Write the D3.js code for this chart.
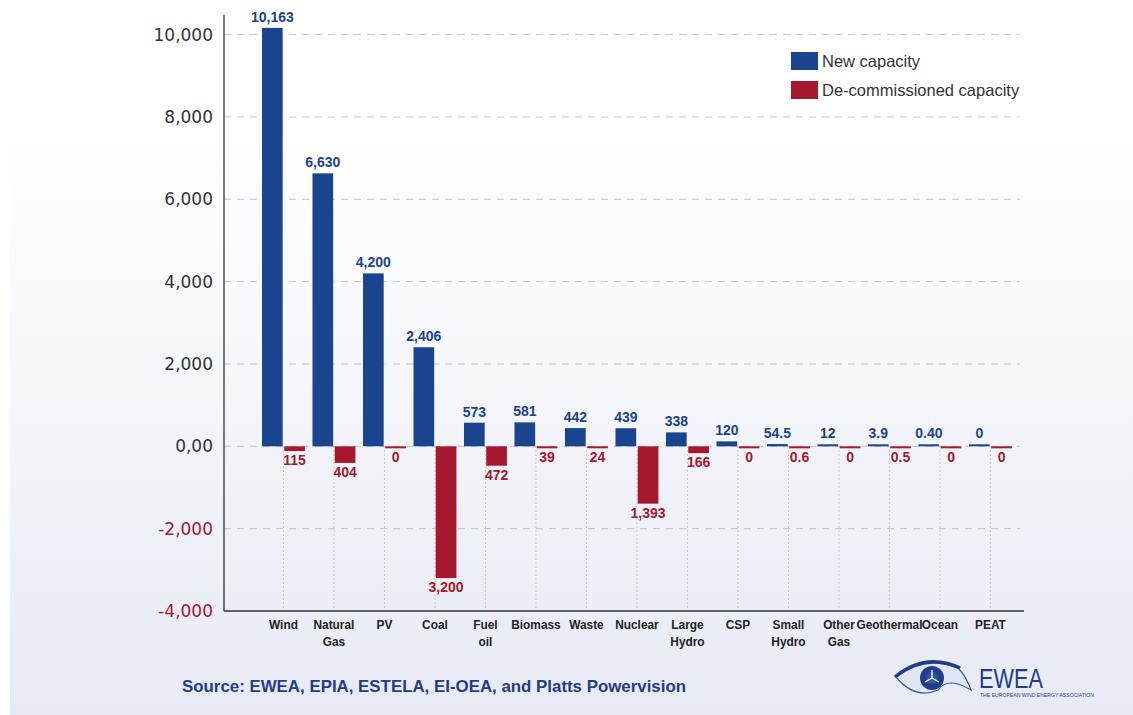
<!DOCTYPE html>
<html>
<head>
<meta charset="utf-8">
<script src="https://cdn.jsdelivr.net/npm/d3@7"></script>
<style>
  body { margin: 0; background: #fff; }
  svg { display: block; }
</style>
</head>
<body>
<svg width="1133" height="715"></svg>
<script>
// categories and values
var categories = ["Wind", "Natural Gas", "PV", "Coal", "Fuel oil", "Biomass", "Waste", "Nuclear",
  "Large Hydro", "CSP", "Small Hydro", "Other Gas", "Geothermal", "Ocean", "PEAT"];
var catLines = [["Wind"], ["Natural", "Gas"], ["PV"], ["Coal"], ["Fuel", "oil"], ["Biomass"], ["Waste"], ["Nuclear"],
  ["Large", "Hydro"], ["CSP"], ["Small", "Hydro"], ["Other", "Gas"], ["Geothermal"], ["Ocean"], ["PEAT"]];
var newCapacity = [10163, 6630, 4200, 2406, 573, 581, 442, 439, 338, 120, 54.5, 12, 3.9, 0.40, 0];
var newLabels = ["10,163", "6,630", "4,200", "2,406", "573", "581", "442", "439", "338", "120", "54.5", "12", "3.9", "0.40", "0"];
var decommissioned = [115, 404, 0, 3200, 472, 39, 24, 1393, 166, 0, 0.6, 0, 0.5, 0, 0];
var decomLabels = ["115", "404", "0", "3,200", "472", "39", "24", "1,393", "166", "0", "0.6", "0", "0.5", "0", "0"];
var yTicks = [10000, 8000, 6000, 4000, 2000, 0, -2000, -4000];
var yTickLabels = ["10,000", "8,000", "6,000", "4,000", "2,000", "0,00", "-2,000", "-4,000"];
var seriesNames = ["New capacity", "De-commissioned capacity"];

var blue = "#1a448d", red = "#a5182e";
var width = 1133, height = 715;
var margin = ({top: 14, right: 113, bottom: 104, left: 224});

var svg = d3.select("svg");

// background gradient
var defs = svg.append("defs");
var grad = defs.append("linearGradient").attr("id", "bg").attr("x1", 0).attr("y1", 0).attr("x2", 0).attr("y2", 1);
grad.append("stop").attr("offset", "0.18").attr("stop-color", "#ffffff");
grad.append("stop").attr("offset", "1").attr("stop-color", "#e7eaf4");
svg.append("rect").attr("x", 10).attr("y", 0).attr("width", width - 10).attr("height", height).attr("fill", "url(#bg)");

var x0 = d3.scaleBand()
    .domain(categories)
    .range([258.2, 1015.7])
    .paddingInner(0.15)
    .paddingOuter(0.075);
var x1 = d3.scaleBand()
    .domain(["new", "decom"])
    .range([0, x0.bandwidth()])
    .paddingInner(0.07);
var y = d3.scaleLinear()
    .domain([-4000, 10500])
    .range([height - margin.bottom, margin.top]);

// gridlines
svg.append("g")
  .selectAll("line")
  .data(yTicks.filter(d => d > -4000))
  .join("line")
    .attr("x1", margin.left).attr("x2", 1020)
    .attr("y1", d => y(d)).attr("y2", d => y(d))
    .attr("stroke", "#c4c4c4")
    .attr("stroke-width", 1)
    .attr("stroke-dasharray", "7,6");

// dotted verticals under the zero line
svg.append("g")
  .selectAll("line")
  .data(categories)
  .join("line")
    .attr("x1", d => x0(d) + x0.bandwidth() / 2).attr("x2", d => x0(d) + x0.bandwidth() / 2)
    .attr("y1", y(0)).attr("y2", y(-4000))
    .attr("stroke", "#bdbdbd")
    .attr("stroke-width", 1)
    .attr("stroke-dasharray", "1.5,2.5");

// y axis
var yAxis = g => g
    .attr("transform", `translate(${margin.left},0)`)
    .call(d3.axisLeft(y).tickValues(yTicks).tickSize(0).tickPadding(11)
      .tickFormat((d, i) => yTickLabels[i]))
    .call(g => g.select(".domain").remove())
    .call(g => g.selectAll(".tick text")
        .attr("font-family", "DejaVu Sans, sans-serif")
        .attr("font-size", 17)
        .attr("fill", d => d < 0 ? red : "#333"));
svg.append("g").call(yAxis);

svg.append("line")
    .attr("x1", margin.left).attr("x2", margin.left)
    .attr("y1", 15).attr("y2", y(-4000))
    .attr("stroke", "#333").attr("stroke-width", 1.3);
svg.append("line")
    .attr("x1", margin.left).attr("x2", 1024)
    .attr("y1", y(-4000)).attr("y2", y(-4000))
    .attr("stroke", "#333").attr("stroke-width", 1.3);

// bars
var rows = categories.map((c, i) => ({cat: c, lines: catLines[i], nv: newCapacity[i], nl: newLabels[i], dv: decommissioned[i], dl: decomLabels[i]}));
var minH = 2;

var groups = svg.append("g")
  .selectAll("g")
  .data(rows)
  .join("g")
    .attr("transform", d => `translate(${x0(d.cat)},0)`);

groups.append("rect")
    .attr("x", x1("new"))
    .attr("width", x1.bandwidth())
    .attr("y", d => Math.min(y(d.nv), y(0) - minH))
    .attr("height", d => Math.max(y(0) - y(d.nv), minH))
    .attr("fill", blue);

groups.append("rect")
    .attr("x", x1("decom"))
    .attr("width", x1.bandwidth())
    .attr("y", y(0))
    .attr("height", d => Math.max(y(0) - y(d.dv), minH))
    .attr("fill", red);

groups.append("text")
    .attr("x", x1("new") + x1.bandwidth() / 2)
    .attr("y", d => Math.min(y(d.nv), y(0) - minH) - 6)
    .attr("text-anchor", "middle")
    .attr("font-family", "Liberation Sans, Arial, sans-serif")
    .attr("font-weight", "bold")
    .attr("font-size", 14)
    .attr("fill", blue)
    .text(d => d.nl);

groups.append("text")
    .attr("x", x1("decom") + x1.bandwidth() / 2)
    .attr("y", d => y(0) + Math.max(y(0) - y(d.dv), minH) + 14)
    .attr("text-anchor", "middle")
    .attr("font-family", "Liberation Sans, Arial, sans-serif")
    .attr("font-weight", "bold")
    .attr("font-size", 14)
    .attr("fill", red)
    .text(d => d.dl);

// category labels, slightly condensed
var catText = groups.append("g")
    .attr("transform", `translate(${x0.bandwidth() / 2},629) scale(0.88,1)`)
  .append("text")
    .attr("text-anchor", "middle")
    .attr("font-family", "Liberation Sans, Arial, sans-serif")
    .attr("font-weight", "bold")
    .attr("font-size", 13.5)
    .attr("fill", "#222");
catText.selectAll("tspan")
  .data(d => d.lines)
  .join("tspan")
    .attr("x", 0)
    .attr("dy", (d, i) => i === 0 ? 0 : 17)
    .text(d => d);

// legend
var legend = svg.append("g")
  .selectAll("g")
  .data(seriesNames)
  .join("g")
    .attr("transform", (d, i) => `translate(791,${52 + i * 29})`);
legend.append("rect")
    .attr("width", 27).attr("height", 18)
    .attr("fill", (d, i) => i === 0 ? blue : red);
legend.append("text")
    .attr("x", 31).attr("y", 14.5)
    .attr("font-family", "Liberation Sans, Arial, sans-serif")
    .attr("font-size", 16.5)
    .attr("fill", "#333")
    .text(d => d);

// source
svg.append("text")
    .attr("x", 182).attr("y", 692)
    .attr("font-family", "Liberation Sans, Arial, sans-serif")
    .attr("font-weight", "bold")
    .attr("font-size", 17)
    .attr("fill", "#1f3d8a")
    .attr("textLength", 504)
    .attr("lengthAdjust", "spacingAndGlyphs")
    .text("Source: EWEA, EPIA, ESTELA, EI-OEA, and Platts Powervision");

// EWEA logo
var logo = svg.append("g");
logo.append("path")
    .attr("d", "M896,677 Q925,655 958,668 Q966,676 971,690 Q948,676 938,690 Q915,700 896,677 Z")
    .attr("fill", "#dfe5f1").attr("stroke", "#3d5c9e").attr("stroke-width", 1.2);
logo.append("path")
    .attr("d", "M895,677 Q925,652 960,668")
    .attr("fill", "none").attr("stroke", "#1f3d8a").attr("stroke-width", 3.5);
logo.append("circle").attr("cx", 932).attr("cy", 678).attr("r", 12).attr("fill", "#1f3d8a");
logo.append("circle").attr("cx", 932).attr("cy", 678).attr("r", 6).attr("fill", "#2e55a3");
logo.append("g")
    .attr("stroke", "#fff").attr("stroke-width", 1.3)
  .selectAll("line")
  .data([0, 120, 240])
  .join("line")
    .attr("x1", 932).attr("y1", 678)
    .attr("x2", d => 932 + 8 * Math.sin(d * Math.PI / 180))
    .attr("y2", d => 678 - 8 * Math.cos(d * Math.PI / 180));
logo.append("text")
    .attr("x", 979).attr("y", 688)
    .attr("font-family", "Liberation Sans, Arial, sans-serif")
    .attr("font-size", 28)
    .attr("fill", "#1f3d8a")
    .attr("textLength", 64)
    .attr("lengthAdjust", "spacingAndGlyphs")
    .text("EWEA");
logo.append("text")
    .attr("x", 980).attr("y", 697)
    .attr("font-family", "Liberation Sans, Arial, sans-serif")
    .attr("font-size", 6)
    .attr("fill", "#1f3d8a")
    .attr("textLength", 114)
    .attr("lengthAdjust", "spacingAndGlyphs")
    .text("THE EUROPEAN WIND ENERGY ASSOCIATION");
</script>
</body>
</html>
